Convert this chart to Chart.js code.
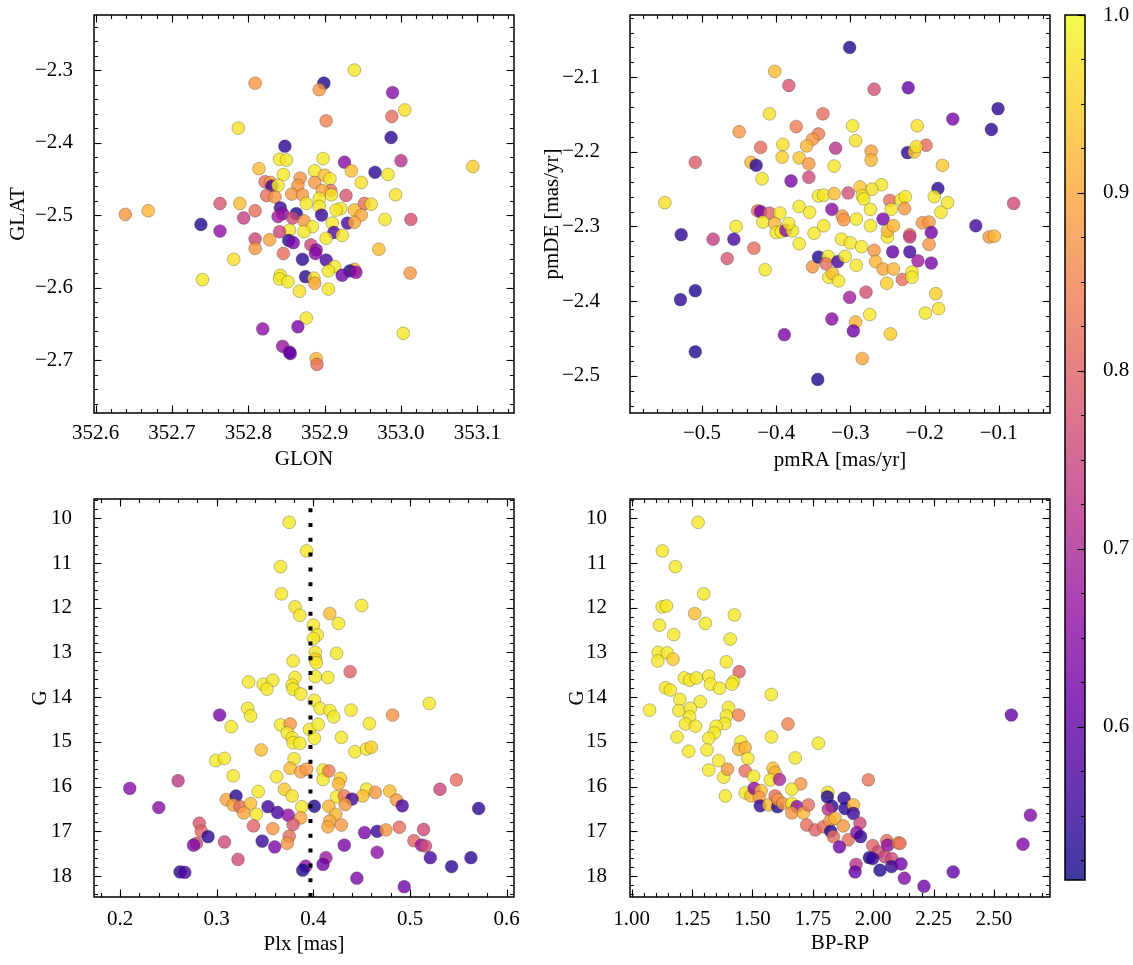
<!DOCTYPE html>
<html><head><meta charset="utf-8">
<script src="https://cdn.jsdelivr.net/npm/chart.js@4.4.1/dist/chart.umd.min.js"></script>
<style>
html,body{margin:0;padding:0;background:#fff;width:1133px;height:965px;overflow:hidden}
canvas{position:absolute}
</style></head><body>
<canvas id="c1" width="530" height="480" style="left:0;top:0"></canvas>
<canvas id="c2" width="530" height="480" style="left:530px;top:0"></canvas>
<canvas id="c3" width="530" height="485" style="left:0;top:480px"></canvas>
<canvas id="c4" width="530" height="485" style="left:530px;top:480px"></canvas>
<canvas id="cb" width="73" height="965" style="left:1060px;top:0"></canvas>
<script>
// ---------------- DATA ----------------
// Panel 1: GLON / GLAT
const glon = [352.939,352.809,352.899,352.893,352.989,353.005,352.988,352.902,352.787,352.987,352.848,352.841,352.850,352.898,352.926,353.000,353.094,352.814,352.966,352.935,352.983,352.846,352.887,352.900,352.907,352.868,352.948,352.822,352.829,352.831,352.887,352.839,352.865,352.908,352.897,352.824,352.835,352.857,352.871,352.893,352.909,352.928,352.993,352.763,352.789,352.809,352.952,352.961,352.876,352.893,352.921,352.915,352.939,352.842,352.845,352.863,352.639,352.669,352.896,352.948,352.794,352.839,352.858,352.873,352.979,353.013,352.738,352.930,352.939,352.910,352.884,352.763,352.854,352.873,352.912,352.923,352.841,352.809,352.828,352.853,352.859,352.882,352.902,352.889,352.971,352.809,352.846,352.781,352.871,352.888,352.902,352.913,352.905,352.939,352.933,352.941,352.923,353.012,352.740,352.842,352.841,352.852,352.875,352.886,352.887,352.867,352.905,352.876,352.819,352.865,353.003,352.845,352.854,352.855,352.889,352.890];
const glat = [-2.300,-2.318,-2.318,-2.327,-2.331,-2.355,-2.364,-2.370,-2.380,-2.393,-2.405,-2.423,-2.424,-2.422,-2.427,-2.425,-2.433,-2.436,-2.441,-2.439,-2.444,-2.444,-2.439,-2.445,-2.450,-2.449,-2.455,-2.454,-2.455,-2.460,-2.455,-2.459,-2.459,-2.466,-2.466,-2.473,-2.475,-2.471,-2.472,-2.477,-2.472,-2.473,-2.472,-2.484,-2.484,-2.494,-2.484,-2.485,-2.484,-2.488,-2.491,-2.493,-2.493,-2.490,-2.498,-2.498,-2.499,-2.494,-2.500,-2.500,-2.504,-2.502,-2.504,-2.508,-2.506,-2.506,-2.513,-2.511,-2.510,-2.511,-2.516,-2.522,-2.521,-2.523,-2.524,-2.528,-2.523,-2.533,-2.534,-2.535,-2.538,-2.541,-2.532,-2.548,-2.547,-2.546,-2.553,-2.561,-2.561,-2.553,-2.562,-2.571,-2.577,-2.575,-2.577,-2.579,-2.583,-2.580,-2.589,-2.583,-2.588,-2.592,-2.585,-2.587,-2.594,-2.605,-2.602,-2.642,-2.657,-2.654,-2.663,-2.681,-2.689,-2.691,-2.698,-2.706];
const probPos = [0.98,0.88,0.53,0.88,0.65,0.97,0.82,0.85,0.97,0.54,0.54,0.98,0.98,0.98,0.65,0.72,0.95,0.93,0.54,0.93,0.98,0.98,0.98,0.93,0.98,0.88,0.97,0.82,0.88,0.56,0.88,0.98,0.88,0.83,0.90,0.82,0.88,0.88,0.88,0.98,0.98,0.78,0.97,0.78,0.93,0.82,0.82,0.97,0.98,0.98,0.98,0.98,0.93,0.56,0.65,0.53,0.88,0.92,0.55,0.90,0.74,0.68,0.76,0.88,0.98,0.77,0.53,0.57,0.90,0.98,0.98,0.66,0.98,0.98,0.58,0.98,0.75,0.75,0.90,0.54,0.63,0.76,0.98,0.66,0.93,0.88,0.82,0.97,0.54,0.65,0.57,0.98,0.98,0.90,0.53,0.66,0.62,0.88,0.98,0.98,0.98,0.98,0.54,0.97,0.90,0.97,0.98,0.98,0.66,0.63,0.98,0.67,0.62,0.60,0.92,0.82];

// Panel 2: pmRA / pmDE
const pmra = [-0.301,-0.402,-0.383,-0.268,-0.222,-0.101,-0.409,-0.337,-0.162,-0.110,-0.450,-0.373,-0.343,-0.351,-0.297,-0.293,-0.210,-0.198,-0.421,-0.391,-0.359,-0.320,-0.272,-0.272,-0.223,-0.214,-0.211,-0.176,-0.509,-0.392,-0.369,-0.434,-0.427,-0.356,-0.322,-0.419,-0.380,-0.356,-0.182,-0.258,-0.271,-0.287,-0.550,-0.343,-0.336,-0.322,-0.303,-0.284,-0.282,-0.080,-0.169,-0.187,-0.247,-0.232,-0.226,-0.227,-0.245,-0.369,-0.355,-0.325,-0.311,-0.309,-0.292,-0.273,-0.256,-0.178,-0.425,-0.421,-0.409,-0.395,-0.454,-0.131,-0.528,-0.485,-0.457,-0.430,-0.466,-0.415,-0.418,-0.402,-0.400,-0.393,-0.387,-0.378,-0.383,-0.369,-0.349,-0.336,-0.351,-0.343,-0.330,-0.333,-0.329,-0.324,-0.317,-0.307,-0.316,-0.312,-0.300,-0.292,-0.285,-0.273,-0.268,-0.266,-0.256,-0.250,-0.250,-0.242,-0.243,-0.251,-0.242,-0.230,-0.220,-0.220,-0.220,-0.217,-0.217,-0.209,-0.203,-0.194,-0.191,-0.194,-0.191,-0.185,-0.181,-0.199,-0.113,-0.106,-0.529,-0.509,-0.509,-0.389,-0.325,-0.301,-0.279,-0.293,-0.296,-0.274,-0.246,-0.284,-0.344];
const pmde = [-2.060,-2.092,-2.111,-2.116,-2.114,-2.142,-2.149,-2.149,-2.156,-2.170,-2.173,-2.166,-2.176,-2.183,-2.165,-2.185,-2.165,-2.191,-2.194,-2.190,-2.192,-2.195,-2.199,-2.211,-2.201,-2.200,-2.193,-2.218,-2.214,-2.207,-2.208,-2.214,-2.218,-2.216,-2.219,-2.236,-2.239,-2.234,-2.249,-2.244,-2.250,-2.247,-2.268,-2.259,-2.258,-2.256,-2.255,-2.259,-2.263,-2.269,-2.268,-2.260,-2.265,-2.264,-2.260,-2.276,-2.277,-2.273,-2.281,-2.277,-2.286,-2.291,-2.290,-2.277,-2.290,-2.281,-2.279,-2.280,-2.282,-2.282,-2.300,-2.299,-2.311,-2.317,-2.317,-2.329,-2.343,-2.358,-2.294,-2.296,-2.308,-2.307,-2.305,-2.306,-2.296,-2.323,-2.309,-2.299,-2.354,-2.341,-2.340,-2.350,-2.368,-2.363,-2.347,-2.340,-2.373,-2.317,-2.322,-2.352,-2.327,-2.299,-2.332,-2.347,-2.357,-2.314,-2.306,-2.299,-2.334,-2.376,-2.357,-2.371,-2.334,-2.311,-2.314,-2.361,-2.368,-2.346,-2.295,-2.294,-2.308,-2.324,-2.349,-2.390,-2.410,-2.416,-2.314,-2.313,-2.398,-2.386,-2.468,-2.445,-2.424,-2.395,-2.388,-2.428,-2.440,-2.418,-2.444,-2.477,-2.505];
const probPm = [0.53,0.93,0.78,0.77,0.60,0.54,0.97,0.82,0.63,0.54,0.88,0.84,0.84,0.88,0.98,0.97,0.97,0.82,0.82,0.97,0.92,0.72,0.89,0.92,0.54,0.94,0.97,0.94,0.79,0.95,0.94,0.92,0.54,0.88,0.98,0.98,0.63,0.76,0.54,0.98,0.97,0.94,0.97,0.98,0.98,0.93,0.77,0.98,0.98,0.76,0.98,0.98,0.82,0.98,0.98,0.88,0.98,0.98,0.98,0.65,0.88,0.88,0.98,0.98,0.63,0.98,0.82,0.62,0.80,0.98,0.98,0.56,0.54,0.74,0.57,0.82,0.78,0.98,0.98,0.92,0.98,0.98,0.66,0.98,0.98,0.98,0.98,0.98,0.88,0.53,0.98,0.82,0.98,0.93,0.57,0.98,0.98,0.98,0.98,0.98,0.98,0.98,0.88,0.92,0.90,0.98,0.92,0.92,0.60,0.95,0.92,0.82,0.56,0.82,0.74,0.98,0.98,0.68,0.88,0.88,0.62,0.88,0.63,0.95,0.97,0.98,0.88,0.92,0.54,0.53,0.53,0.63,0.65,0.68,0.77,0.92,0.62,0.98,0.95,0.90,0.53];

// Panel 3: Plx / G
const plx = [0.375,0.393,0.366,0.367,0.381,0.386,0.417,0.450,0.426,0.400,0.404,0.400,0.402,0.424,0.402,0.403,0.379,0.438,0.333,0.348,0.358,0.352,0.381,0.378,0.379,0.402,0.415,0.387,0.401,0.520,0.303,0.332,0.335,0.315,0.407,0.417,0.421,0.439,0.482,0.458,0.366,0.376,0.373,0.378,0.379,0.386,0.396,0.405,0.401,0.429,0.346,0.299,0.308,0.317,0.443,0.455,0.460,0.380,0.376,0.387,0.393,0.362,0.410,0.410,0.416,0.428,0.426,0.260,0.210,0.240,0.370,0.378,0.343,0.455,0.464,0.479,0.451,0.424,0.432,0.440,0.433,0.531,0.548,0.486,0.492,0.310,0.320,0.317,0.324,0.335,0.328,0.341,0.353,0.363,0.374,0.388,0.387,0.401,0.416,0.423,0.417,0.415,0.429,0.379,0.358,0.338,0.375,0.373,0.282,0.284,0.291,0.279,0.276,0.308,0.347,0.360,0.322,0.262,0.267,0.392,0.389,0.413,0.410,0.432,0.453,0.466,0.475,0.489,0.514,0.504,0.512,0.516,0.521,0.466,0.445,0.494,0.543,0.563,0.571];
const gPlx = [10.09,10.73,11.08,11.69,11.98,12.17,12.13,11.95,12.35,12.39,12.61,12.69,13.00,13.02,13.15,13.23,13.19,13.43,13.66,13.71,13.62,13.82,13.56,13.73,13.82,13.54,13.56,13.93,14.07,14.14,14.40,14.25,14.42,14.66,14.25,14.30,14.44,14.29,14.40,14.59,14.62,14.60,14.80,14.91,15.02,15.03,14.72,14.61,14.92,14.90,15.18,15.42,15.37,15.76,15.22,15.16,15.12,15.38,15.59,15.67,15.61,15.78,15.63,15.84,15.65,15.82,15.94,15.87,16.04,16.47,16.06,16.21,16.11,16.06,16.13,16.10,16.21,16.23,16.21,16.28,16.40,16.06,15.85,16.30,16.43,16.29,16.21,16.41,16.45,16.38,16.59,16.62,16.45,16.58,16.64,16.45,16.70,16.44,16.44,16.62,16.77,16.90,16.86,16.85,16.94,16.88,17.11,17.27,16.82,17.00,17.12,17.27,17.31,17.24,17.22,17.35,17.63,17.91,17.92,17.78,17.87,17.59,17.74,17.31,17.03,17.00,16.97,16.91,16.96,17.21,17.31,17.33,17.59,17.47,18.05,18.24,17.79,17.59,16.49];
const probPlx = [0.98,0.98,0.98,0.98,0.97,0.98,0.93,0.98,0.98,0.98,0.98,0.98,0.98,0.98,0.95,0.98,0.98,0.80,0.98,0.98,0.98,0.98,0.98,0.98,0.98,0.98,0.98,0.98,0.98,0.98,0.63,0.98,0.98,0.98,0.98,0.98,0.98,0.98,0.87,0.98,0.98,0.88,0.98,0.98,0.98,0.98,0.98,0.98,0.98,0.98,0.93,0.98,0.98,0.98,0.98,0.98,0.95,0.98,0.93,0.90,0.88,0.98,0.98,0.98,0.84,0.95,0.92,0.73,0.65,0.65,0.94,0.97,0.98,0.98,0.88,0.93,0.93,0.98,0.83,0.56,0.88,0.75,0.82,0.88,0.57,0.90,0.54,0.90,0.82,0.93,0.90,0.98,0.56,0.57,0.66,0.98,0.90,0.53,0.92,0.92,0.90,0.90,0.88,0.78,0.88,0.80,0.82,0.88,0.78,0.80,0.54,0.76,0.64,0.76,0.55,0.63,0.76,0.54,0.57,0.66,0.53,0.68,0.62,0.63,0.63,0.55,0.88,0.82,0.76,0.80,0.67,0.76,0.57,0.66,0.63,0.62,0.54,0.54,0.54];
const plxMean = [0.397];

// Panel 4: BP-RP / G
const bprp = [1.275,1.127,1.181,1.298,1.126,1.144,1.261,1.425,1.305,1.115,1.174,1.408,1.110,1.147,1.171,1.108,1.392,1.445,1.218,1.240,1.268,1.319,1.326,1.364,1.140,1.160,1.422,1.415,1.578,1.199,1.284,1.074,1.195,1.243,1.240,1.222,1.264,1.401,1.392,1.443,1.385,1.350,1.342,1.319,1.188,1.236,1.312,1.360,1.319,1.381,1.388,1.397,1.452,1.443,1.470,1.481,1.470,1.505,1.578,1.647,1.677,1.773,1.585,1.594,1.574,1.612,1.700,1.663,1.980,1.470,1.494,1.507,1.536,1.528,1.532,1.567,1.604,1.594,1.605,1.626,1.663,1.684,1.663,1.711,1.732,1.725,1.760,1.794,1.812,1.810,1.829,1.814,1.821,1.842,1.824,1.835,1.876,1.879,1.883,1.918,1.918,1.897,1.860,1.945,1.932,1.948,1.998,2.021,2.056,2.060,2.049,2.077,2.104,2.111,1.984,1.998,1.929,1.925,2.028,2.076,2.115,2.129,2.210,2.331,2.572,2.651,2.620];
const gCmd = [10.09,10.73,11.08,11.69,11.98,11.96,12.13,12.16,12.35,12.39,12.60,12.70,13.00,13.01,13.15,13.19,13.21,13.43,13.57,13.62,13.57,13.53,13.71,13.80,13.79,13.84,13.65,13.71,13.94,14.05,14.10,14.29,14.30,14.25,14.44,14.60,14.65,14.23,14.42,14.40,14.59,14.65,14.80,14.92,14.89,15.21,15.18,15.42,15.63,15.79,16.21,15.61,15.00,15.17,15.13,15.37,15.65,15.77,14.89,14.60,15.36,15.03,15.59,15.69,15.85,15.84,15.94,16.06,15.85,16.14,16.21,16.04,16.09,16.24,16.43,16.41,16.45,16.21,16.29,16.38,16.38,16.45,16.59,16.59,16.41,16.86,16.97,16.90,16.13,16.23,16.44,16.51,16.77,16.71,17.00,17.12,16.88,16.26,16.49,16.41,16.60,17.19,17.35,16.82,17.03,17.12,17.32,17.46,17.21,17.31,17.57,17.61,17.26,17.27,17.59,17.61,17.74,17.91,17.87,17.79,17.73,18.05,18.23,17.91,14.40,16.64,17.29];
const probCmd = [0.98,0.98,0.98,0.98,0.98,0.98,0.93,0.98,0.98,0.98,0.98,0.98,0.98,0.98,0.95,0.98,0.98,0.80,0.98,0.98,0.98,0.98,0.98,0.98,0.98,0.98,0.98,0.98,0.98,0.98,0.98,0.98,0.98,0.98,0.98,0.98,0.98,0.98,0.98,0.85,0.98,0.98,0.98,0.98,0.98,0.98,0.98,0.98,0.98,0.98,0.98,0.88,0.98,0.92,0.92,0.98,0.82,0.98,0.98,0.85,0.98,0.98,0.93,0.92,0.98,0.70,0.88,0.98,0.83,0.98,0.93,0.66,0.93,0.88,0.55,0.93,0.53,0.82,0.88,0.88,0.98,0.66,0.88,0.92,0.82,0.82,0.80,0.82,0.97,0.53,0.54,0.72,0.88,0.92,0.53,0.82,0.88,0.54,0.54,0.92,0.55,0.82,0.62,0.76,0.65,0.55,0.80,0.76,0.82,0.66,0.75,0.76,0.88,0.82,0.53,0.55,0.72,0.60,0.53,0.55,0.62,0.64,0.62,0.60,0.60,0.64,0.64];

// Tick values (labels)
const glonTicks = [352.6,352.7,352.8,352.9,353.0,353.1];
const glatTicks = [-2.3,-2.4,-2.5,-2.6,-2.7];
const pmraTicks = [-0.5,-0.4,-0.3,-0.2,-0.1];
const pmdeTicks = [-2.1,-2.2,-2.3,-2.4,-2.5];
const plxTicks = [0.2,0.3,0.4,0.5,0.6];
const gTicks = [10,11,12,13,14,15,16,17,18];
const bprpTicks = [1.00,1.25,1.50,1.75,2.00,2.25,2.50];
const cbarTicks = [0.6,0.7,0.8,0.9,1.0];
const probRange = [0.514, 1.0];

// ---------------- STYLE / HELPERS ----------------
const FONT = {family:"'Liberation Serif', 'Times New Roman', serif", size:21};
const PLASMA = ['#0d0887','#41049d','#6a00a8','#8f0da4','#b12a90','#cc4778','#e16462','#f2844b','#fca636','#fcce25','#f0f921'];
function hexRgb(h){return [parseInt(h.slice(1,3),16),parseInt(h.slice(3,5),16),parseInt(h.slice(5,7),16)];}
function plasma(t,a){
  t=Math.max(0,Math.min(1,t)); const s=t*10; const i=Math.min(9,Math.floor(s)); const f=s-i;
  const c0=hexRgb(PLASMA[i]), c1=hexRgb(PLASMA[i+1]);
  const c=c0.map((v,k)=>Math.round(v+(c1[k]-v)*f));
  return `rgba(${c[0]},${c[1]},${c[2]},${a})`;
}
function probColor(p){return plasma((p-probRange[0])/(probRange[1]-probRange[0]),0.8);}
function fmt(d){return v=>Number(v).toFixed(d).replace('-','\u2212');}

const tickFrame = {
  id:'tickFrame',
  afterDraw(chart, args, o){
    const {ctx, chartArea:a, scales} = chart;
    ctx.save(); ctx.strokeStyle='#000'; ctx.lineWidth=1.1;
    const line=(x1,y1,x2,y2)=>{ctx.beginPath();ctx.moveTo(x1,y1);ctx.lineTo(x2,y2);ctx.stroke();};
    const vals=(s,step)=>{const out=[];const n0=Math.ceil(s.min/step-1e-7),n1=Math.floor(s.max/step+1e-7);for(let n=n0;n<=n1;n++)out.push(n*step);return out;};
    if(o.x){const s=scales.x;
      vals(s,o.x.minor).forEach(v=>{const p=Math.round(s.getPixelForValue(v))+0.5;line(p,a.bottom,p,a.bottom-4);line(p,a.top,p,a.top+4);});
      o.x.major.forEach(v=>{const p=Math.round(s.getPixelForValue(v))+0.5;line(p,a.bottom,p,a.bottom-7.5);line(p,a.top,p,a.top+7.5);});
    }
    if(o.y){const s=scales.y; const both=o.y.both!==false;
      vals(s,o.y.minor).forEach(v=>{const p=Math.round(s.getPixelForValue(v))+0.5;if(both)line(a.left,p,a.left+4,p);line(a.right,p,a.right-4,p);});
      o.y.major.forEach(v=>{const p=Math.round(s.getPixelForValue(v))+0.5;if(both)line(a.left,p,a.left+7.5,p);line(a.right,p,a.right-7.5,p);});
    }
    ctx.lineWidth=1.5;
    ctx.strokeRect(a.left,a.top,a.right-a.left,a.bottom-a.top);
    ctx.restore();
  }
};

function axis(opt){
  return {
    type:'linear', min:opt.min, max:opt.max, reverse:!!opt.reverse, position:opt.position,
    grid:{display:false}, border:{display:false},
    afterBuildTicks:s=>{s.ticks=opt.ticks.map(v=>({value:v}));},
    afterFit:s=>{
      if(opt.w!==undefined) s.width=opt.w;
      if(opt.h!==undefined) s.height=opt.h;
      s.paddingTop=0; s.paddingBottom=0; s.paddingLeft=0; s.paddingRight=0;
    },
    ticks:{font:FONT,color:'#000',padding:opt.pad,autoSkip:false,maxRotation:0,callback:fmt(opt.dec)},
    title:{display:!!opt.title,text:opt.title,font:FONT,color:'#000',padding:{top:opt.tpad,bottom:opt.tpad}}
  };
}
function scatterSet(xs,ys,ps){
  return {type:'scatter',order:1,data:xs.map((x,i)=>({x:x,y:ys[i]})),
    pointRadius:6.4,pointHoverRadius:6.4,pointBackgroundColor:ps.map(probColor),
    pointBorderColor:'rgba(40,40,40,0.5)',pointBorderWidth:0.6};
}
function make(id, datasets, xAx, yAx, padding, ticksOpt){
  return new Chart(document.getElementById(id),{
    type:'scatter',
    data:{datasets:datasets},
    options:{responsive:false,animation:false,events:[],
      layout:{padding:padding},
      plugins:{legend:{display:false},tooltip:{enabled:false},tickFrame:ticksOpt},
      scales:{x:xAx,y:yAx}},
    plugins:[tickFrame]
  });
}

// Panel 1
make('c1',[scatterSet(glon,glat,probPos)],
  axis({min:352.598,max:353.148,ticks:glonTicks,dec:1,h:67,pad:0,title:'GLON',tpad:8}),
  axis({min:-2.773,max:-2.224,ticks:glatTicks,dec:1,w:94,pad:13,title:'GLAT',tpad:5.4}),
  {top:15,right:16,left:0,bottom:0},
  {x:{major:glonTicks,minor:0.02},y:{major:glatTicks,minor:0.02}});

// Panel 2
make('c2',[scatterSet(pmra,pmde,probPm)],
  axis({min:-0.597,max:-0.031,ticks:pmraTicks,dec:1,h:67,pad:0,title:'pmRA [mas/yr]',tpad:7}),
  axis({min:-2.550,max:-2.0165,ticks:pmdeTicks,dec:1,w:100,pad:22,title:'pmDE [mas/yr]',tpad:9.5}),
  {top:15,right:10,left:0,bottom:0},
  {x:{major:pmraTicks,minor:0.02},y:{major:pmdeTicks,minor:0.02}});

// Panel 3
const meanLine = {type:'line',order:0,showLine:true,
  data:[{x:plxMean[0],y:18.47},{x:plxMean[0],y:9.568}],
  borderColor:'#000',borderWidth:4,borderDash:[4,10.8],borderCapStyle:'butt',pointRadius:0,fill:false};
make('c3',[meanLine,scatterSet(plx,gPlx,probPlx)],
  axis({min:0.173,max:0.6076,ticks:plxTicks,dec:1,h:68,pad:1.5,title:'Plx [mas]',tpad:7.5}),
  axis({min:9.568,max:18.47,reverse:true,ticks:gTicks,dec:0,w:94,pad:14,title:'G',tpad:27.4}),
  {top:19,right:16,left:0,bottom:0},
  {x:{major:plxTicks,minor:0.02},y:{major:gTicks,minor:0.2}});

// Panel 4
make('c4',[scatterSet(bprp,gCmd,probCmd)],
  axis({min:0.993,max:2.732,ticks:bprpTicks,dec:2,h:68,pad:1.5,title:'BP-RP',tpad:9}),
  axis({min:9.568,max:18.47,reverse:true,ticks:gTicks,dec:0,w:100,pad:15,title:'G',tpad:34.4}),
  {top:19,right:10,left:0,bottom:0},
  {x:{major:bprpTicks,minor:0.05},y:{major:gTicks,minor:0.2}});

// Colorbar
const cbarFill = {
  id:'cbarFill',
  beforeDatasetsDraw(chart){
    const {ctx, chartArea:a, scales:{y}} = chart;
    const y0=y.getPixelForValue(probRange[0]), y1=y.getPixelForValue(probRange[1]);
    const g=ctx.createLinearGradient(0,y0,0,y1);
    for(let i=0;i<=40;i++){g.addColorStop(i/40,plasma(i/40,0.8));}
    ctx.save(); ctx.fillStyle=g; ctx.fillRect(a.left,y1,a.right-a.left,y0-y1); ctx.restore();
  }
};
new Chart(document.getElementById('cb'),{
  type:'scatter',
  data:{datasets:[{data:[]}]},
  options:{responsive:false,animation:false,events:[],
    layout:{padding:{left:5,top:15,bottom:85,right:0}},
    plugins:{legend:{display:false},tooltip:{enabled:false},tickFrame:{y:{major:cbarTicks,minor:0.025,both:false}}},
    scales:{
      x:{type:'linear',display:false,min:0,max:1},
      y:axis({min:probRange[0],max:probRange[1],ticks:cbarTicks,dec:1,w:48,pad:10,position:'right'})
    }},
  plugins:[cbarFill,tickFrame]
});
</script>
</body></html>
